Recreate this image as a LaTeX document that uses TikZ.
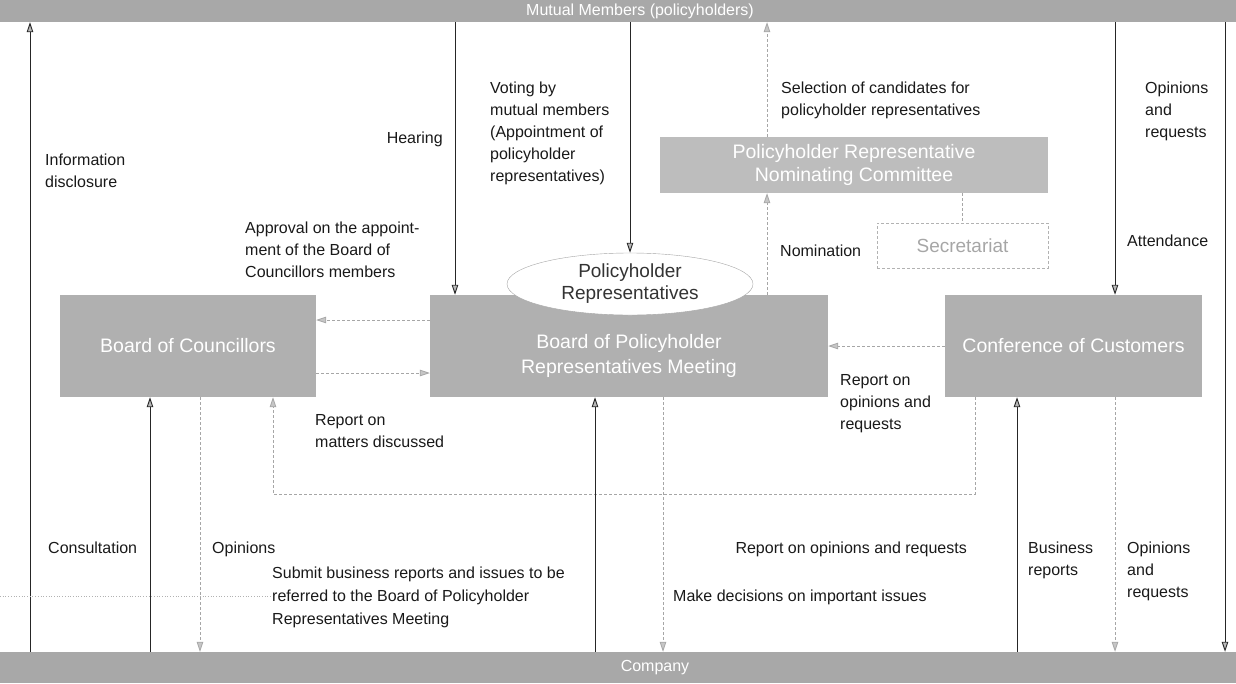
\documentclass[tikz,border=0pt]{standalone}
\usepackage{fontspec}
\setmainfont{Liberation Sans}
\usetikzlibrary{arrows.meta,shapes.geometric,calc}
\begin{document}
\begin{tikzpicture}[x=1pt,y=-1pt, font=\fontsize{16}{22}\selectfont,
  band/.style={fill=gray!68, draw=none, text=white, inner sep=0pt, minimum width=1236pt, font=\fontsize{16}{20}\selectfont},
  box/.style={fill=gray!62, draw=none, text=white, align=center, inner sep=0pt, font=\fontsize{19.5}{25}\selectfont},
  lbl/.style={align=left, inner sep=0pt, anchor=north west, text=black!90},
  sarr/.style={draw=black!85, line width=0.9pt, -{Triangle[length=10pt,width=6.5pt,fill=gray!55]}},
  darr/.style={draw=gray!70, line width=0.8pt, densely dashed, -{Triangle[length=10pt,width=6.5pt,fill=gray!45,color=gray!70]}},
  dline/.style={draw=gray!70, line width=0.8pt, densely dashed}
]
\useasboundingbox (0,0) rectangle (1236,683);

% bands
\node[band, minimum height=22pt] (mm) at (618,11) {\hspace*{44pt}Mutual Members (policyholders)};
\node[band, minimum height=31pt] (co) at (618,667.5) {\hspace*{74pt}Company};

% boxes
\node[box, minimum width=256pt, minimum height=102pt] (cou) at (188,346) {Board of Councillors};
\node[box, minimum width=398pt, minimum height=102pt] (mtg) at (629,346) {};
\node[box, fill=none, inner sep=0pt] (mtgt) at (629,356) {Board of Policyholder\\Representatives Meeting};
\node[box, minimum width=257pt, minimum height=102pt] (con) at (1073.5,346) {Conference of Customers};
\node[box, fill=gray!52, minimum width=388pt, minimum height=56pt, font=\fontsize{19.5}{23}\selectfont] (nom) at (854,165) {Policyholder Representative\\Nominating Committee};
\node[draw=gray!60, densely dashed, text=gray!70, minimum width=171pt, minimum height=45pt, inner sep=0pt, font=\fontsize{19}{22}\selectfont] (sec) at (962.5,245.5) {Secretariat};
\node[ellipse, draw=gray!70, fill=white, minimum width=246pt, minimum height=62pt, inner sep=0pt, align=center, text=black!80, font=\fontsize{19}{22}\selectfont] (ell) at (630,284) {Policyholder\\Representatives};

% labels
\node[lbl] (l1) at (45,154) {Information\\disclosure};
\node[lbl, anchor=north east] (l2) at (443,132) {Hearing};
\node[lbl] (l3) at (490,82) {Voting by\\mutual members\\(Appointment of\\policyholder\\representatives)};
\node[lbl] (l4) at (781,82) {Selection of candidates for\\policyholder representatives};
\node[lbl] (l5) at (1145,82) {Opinions\\and\\requests};
\node[lbl] (l6) at (1127,235) {Attendance};
\node[lbl] (l7) at (245,222) {Approval on the appoint-\\ment of the Board of\\Councillors members};
\node[lbl] (l8) at (780,245) {Nomination};
\node[lbl] (l9) at (840,374) {Report on\\opinions and\\requests};
\node[lbl] (l10) at (315,414) {Report on\\matters discussed};
\node[lbl] (l11) at (48,542) {Consultation};
\node[lbl] (l12) at (212,542) {Opinions};
\node[lbl, anchor=north east] (l13) at (967,542) {Report on opinions and requests};
\node[lbl] (l14) at (1028,542) {Business\\reports};
\node[lbl] (l15) at (1127,542) {Opinions\\and\\requests};
\node[lbl, font=\fontsize{16}{23}\selectfont] (l16) at (272,567) {Submit business reports and issues to be\\referred to the Board of Policyholder\\Representatives Meeting};
\node[lbl] (l17) at (673,590) {Make decisions on important issues};

% connectors: mutual members
\draw[sarr] (co.north -| 30,0) -- (mm.south -| 30,0);
\draw[sarr] (mm.south -| 455,0) -- (mtg.north -| 455,0);
\draw[sarr] (mm.south -| ell.north) -- (ell.north);
\draw[darr] (nom.north -| 767,0) -- (mm.south -| 767,0);
\draw[darr] (mtg.north -| 767,0) -- (nom.south -| 767,0);
\draw[dline] (nom.south -| sec.north) -- (sec.north);
\draw[sarr] (mm.south -| 1115,0) -- (con.north -| 1115,0);
\draw[sarr] (mm.south -| 1225,0) -- (co.north -| 1225,0);

% horizontal between boxes
\draw[darr] (mtg.west |- 0,320) -- (cou.east |- 0,320);
\draw[darr] (cou.east |- 0,373) -- (mtg.west |- 0,373);
\draw[darr] (con.west |- 0,346) -- (mtg.east |- 0,346);

% councillors - company
\draw[sarr] (co.north -| 150,0) -- (cou.south -| 150,0);
\draw[darr] (cou.south -| 200,0) -- (co.north -| 200,0);
\coordinate (r1) at (975,494);
\coordinate (r2) at (273,494);
\draw[darr] (con.south -| r1) -- (r1) -- (r2) -- (cou.south -| r2);

% meeting - company
\draw[sarr] (co.north -| 595,0) -- (mtg.south -| 595,0);
\draw[darr] (mtg.south -| 663,0) -- (co.north -| 663,0);

% conference - company
\draw[sarr] (co.north -| 1017,0) -- (con.south -| 1017,0);
\draw[darr] (con.south -| 1115,0) -- (co.north -| 1115,0);

% faint leader
\coordinate (lead) at (0,596);
\draw[gray!60, dotted, line width=0.7pt] (lead) -- (l16.west |- lead);
\end{tikzpicture}
\end{document}
